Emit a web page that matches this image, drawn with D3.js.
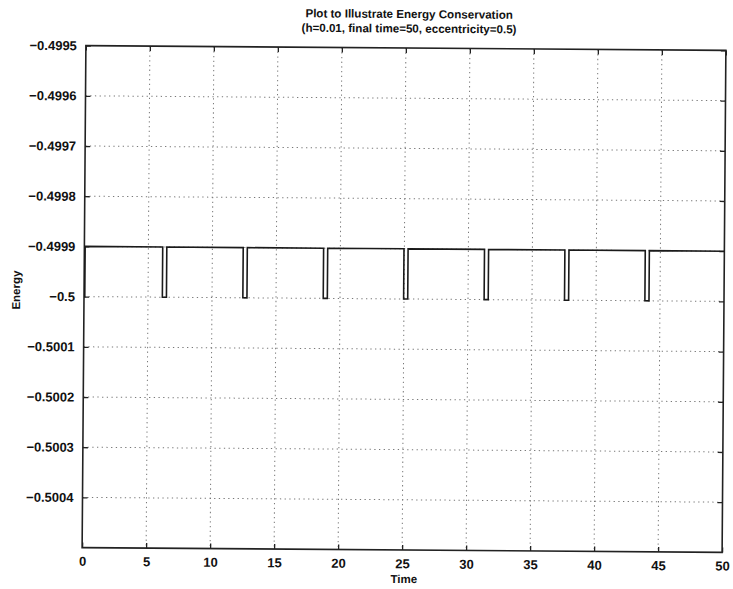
<!DOCTYPE html>
<html>
<head>
<meta charset="utf-8">
<script src="https://cdn.jsdelivr.net/npm/d3@7"></script>
<style>
  html, body { margin: 0; padding: 0; background: #fff; }
  svg { display: block; }
  text { font-family: "Liberation Sans", Arial, Helvetica, sans-serif; font-weight: bold; fill: #111; }
</style>
</head>
<body>
<svg id="chart" width="733" height="589"></svg>
<script>
// Energy of the orbit vs. time (step changes near each perihelion passage)
const time   = [0, 0.06, 6.12, 6.44, 12.41, 12.73, 18.69, 19.01, 24.97, 25.29, 31.26, 31.58, 37.54, 37.86, 43.82, 44.14, 50];
const energy = [-0.5, -0.4999, -0.5, -0.4999, -0.5, -0.4999, -0.5, -0.4999, -0.5, -0.4999, -0.5, -0.4999, -0.5, -0.4999, -0.5, -0.4999, -0.4999];

const xTicks = [0, 5, 10, 15, 20, 25, 30, 35, 40, 45, 50];
const yTicks = [-0.4995, -0.4996, -0.4997, -0.4998, -0.4999, -0.5, -0.5001, -0.5002, -0.5003, -0.5004];
const xDomain = [0, 50];
const yDomain = [-0.5005, -0.4995];

const titleLines = ["Plot to Illustrate Energy Conservation", "(h=0.01, final time=50, eccentricity=0.5)"];
const xLabel = "Time";
const yLabel = "Energy";

const svg = d3.select("#chart");
const box = { left: 84, right: 724, top: 48, bottom: 550 };
const cx = (box.left + box.right) / 2, cy = (box.top + box.bottom) / 2;

// whole figure sits at a slight tilt
const root = svg.append("g").attr("transform", `rotate(0.43, ${cx}, ${cy})`);

const x = d3.scaleLinear().domain(xDomain).range([box.left, box.right]);
const y = d3.scaleLinear().domain(yDomain).range([box.bottom, box.top]);

const fmtY = v => (v === -0.5 ? "\u22120.5" : "\u2212" + Math.abs(v).toFixed(4));

// dotted grid
const grid = root.append("g");
grid.selectAll("line.gx").data(xTicks.filter(t => t > xDomain[0] && t < xDomain[1])).join("line")
  .attr("x1", d => x(d)).attr("x2", d => x(d)).attr("y1", box.top).attr("y2", box.bottom)
  .attr("stroke", "#777").attr("stroke-width", 1).attr("stroke-dasharray", "1.3,3.4");
grid.selectAll("line.gy").data(yTicks.filter(t => t > yDomain[0] && t < yDomain[1])).join("line")
  .attr("x1", box.left).attr("x2", box.right).attr("y1", d => y(d)).attr("y2", d => y(d))
  .attr("stroke", "#777").attr("stroke-width", 1).attr("stroke-dasharray", "1.3,3.4");

// axes with inward ticks
const tl = 5;
const bottomAxis = d3.axisBottom(x).tickValues(xTicks).tickSize(-tl).tickPadding(9).tickFormat(d3.format("d"));
const topAxis = d3.axisTop(x).tickValues(xTicks).tickSize(-tl).tickFormat("");
const leftAxis = d3.axisLeft(y).tickValues(yTicks).tickSize(-tl).tickPadding(9).tickFormat(fmtY);
const rightAxis = d3.axisRight(y).tickValues(yTicks).tickSize(-tl).tickFormat("");

function styleAxis(g, fs) {
  g.select(".domain").remove();
  g.selectAll(".tick line").attr("stroke", "#222").attr("stroke-width", 1.3);
  g.selectAll(".tick text").attr("font-size", fs).attr("fill", "#111")
    .attr("font-family", "'Liberation Sans', Arial, sans-serif").attr("font-weight", "bold");
}
root.append("g").attr("transform", `translate(0,${box.bottom})`).call(bottomAxis).call(g => styleAxis(g, 13));
root.append("g").attr("transform", `translate(0,${box.top})`).call(topAxis).call(g => styleAxis(g, 13));
root.append("g").attr("transform", `translate(${box.left},0)`).call(leftAxis).call(g => styleAxis(g, 13));
root.append("g").attr("transform", `translate(${box.right},0)`).call(rightAxis).call(g => styleAxis(g, 13));

// frame
root.append("rect")
  .attr("x", box.left).attr("y", box.top)
  .attr("width", box.right - box.left).attr("height", box.bottom - box.top)
  .attr("fill", "none").attr("stroke", "#222").attr("stroke-width", 1.6);

// energy trace
const pts = time.map((t, i) => [t, energy[i]]);
const line = d3.line().x(d => x(d[0])).y(d => y(d[1])).curve(d3.curveStepAfter);
root.append("path").datum(pts)
  .attr("d", line)
  .attr("fill", "none").attr("stroke", "#1a1a1a").attr("stroke-width", 1.6);

// title and axis labels
root.append("g").selectAll("text").data(titleLines).join("text")
  .attr("x", cx + 3).attr("y", (d, i) => box.top - 30 + i * 14.5)
  .attr("text-anchor", "middle").attr("font-size", 11.6).text(d => d);

root.append("text").attr("x", cx + 2).attr("y", box.bottom + 33)
  .attr("text-anchor", "middle").attr("font-size", 11.5).text(xLabel);

root.append("text").attr("transform", `translate(20, ${cy - 6}) rotate(-90)`)
  .attr("text-anchor", "middle").attr("font-size", 11.5).text(yLabel);
</script>
</body>
</html>
